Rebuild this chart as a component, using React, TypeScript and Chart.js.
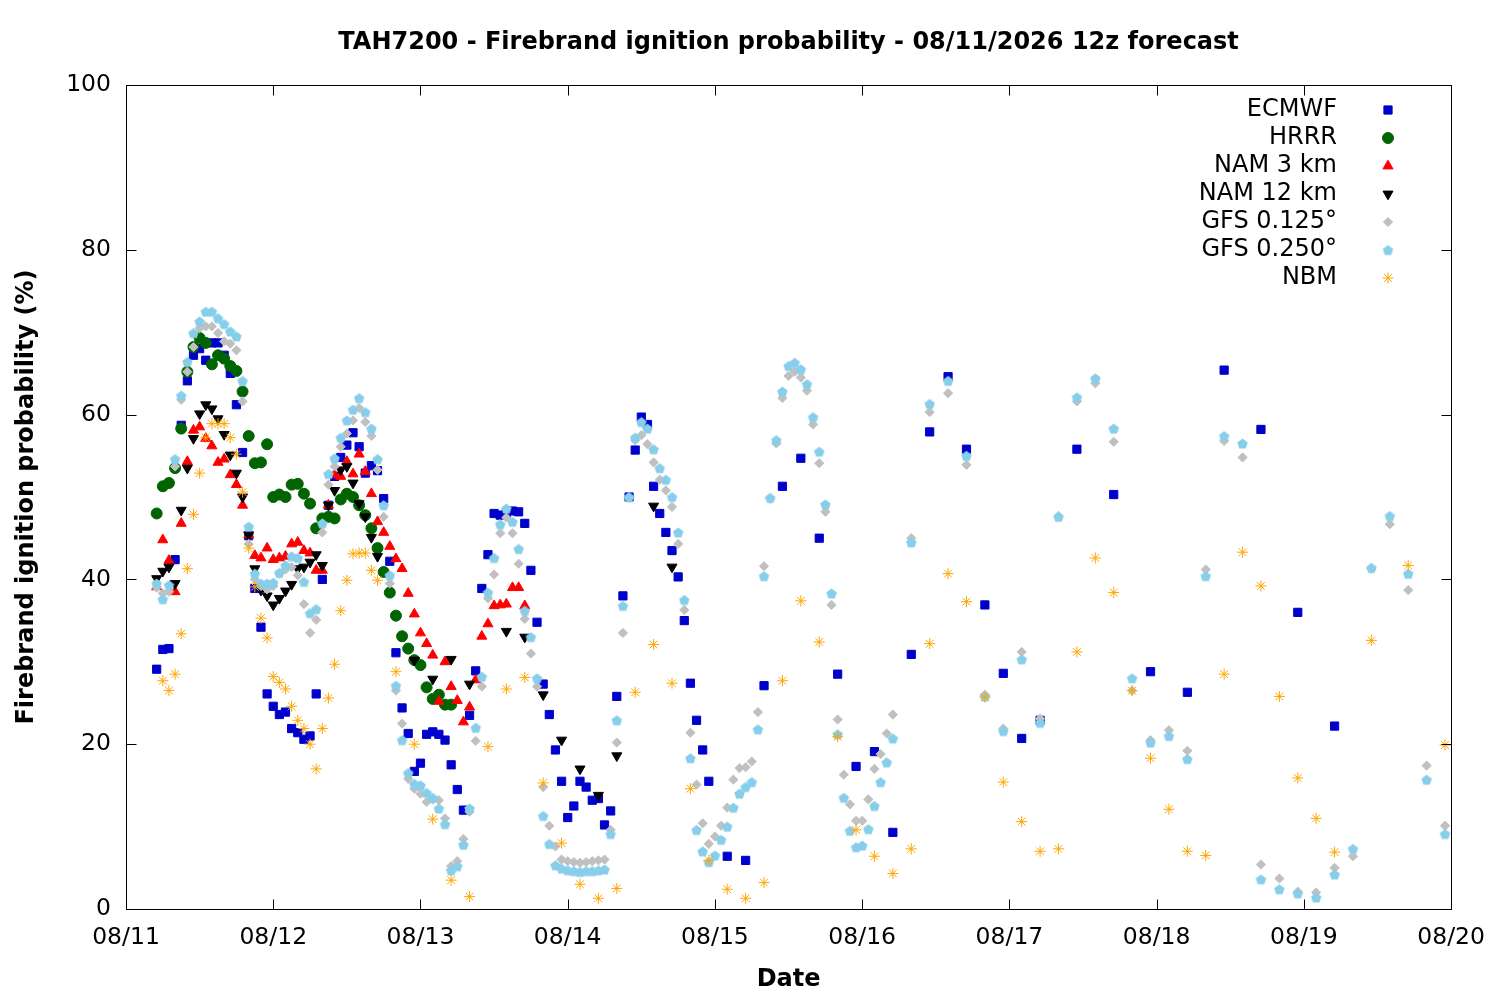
import React, { useEffect, useRef } from 'react';
import { Chart, registerables } from 'chart.js';
import { drawPoint } from 'chart.js/helpers';

Chart.register(...registerables);

// hours are counted from 08/11 00:00 (local), forecast starts at hour 5
const range = (from: number, to: number, step: number) => {
  const out: number[] = [];
  for (let h = from; h <= to; h += step) out.push(h);
  return out;
};

const dayLabels = ['08/11', '08/12', '08/13', '08/14', '08/15', '08/16', '08/17', '08/18', '08/19', '08/20'];

const ecmwfHours = [...range(5, 95, 1), ...range(98, 149, 3), ...range(155, 197, 6)];
const ecmwfValues = [
  29.1, 31.5, 31.6, 42.4, 58.7, 64.1, 67.2, 68.0, 66.6, 68.7,
  68.7, 67.2, 65.0, 61.2, 55.4, 45.3, 38.9, 34.2, 26.1, 24.6,
  23.6, 23.9, 21.9, 21.4, 20.6, 21.0, 26.1, 40.0, 49.0, 52.5,
  54.8, 56.3, 57.8, 56.1, 52.9, 53.8, 53.2, 49.8, 42.2, 31.1,
  24.4, 21.3, 16.7, 17.7, 21.2, 21.5, 21.2, 20.5, 17.5, 14.5,
  12.0, 23.5, 28.9, 38.9, 43.0, 48.0, 47.8, 48.0, 48.3, 48.2,
  46.8, 41.1, 34.8, 27.3, 23.6, 19.3, 15.5, 11.1, 12.5, 15.5,
  14.8, 13.2, 13.4, 10.2, 11.9, 25.8, 38.0, 50.0, 55.7, 59.7,
  58.8, 51.3, 48.0, 45.7, 43.5, 40.3, 35.0, 27.4, 22.9, 19.3,
  15.5,
  6.4, 5.9, 27.1, 51.3, 54.7, 45.0, 28.5, 17.3, 19.1, 9.3,
  30.9, 57.9, 64.6, 55.8, 36.9, 28.6, 20.7, 22.9,
  55.8, 50.3, 28.8, 26.3, 65.4, 58.2, 36.0, 22.2,
];

const hrrrHours = range(5, 53, 1);
const hrrrValues = [
  48.0, 51.3, 51.7, 53.5, 58.3, 65.2, 68.2, 69.3, 68.7, 66.1,
  67.2, 66.8, 65.9, 65.3, 62.8, 57.4, 54.1, 54.2, 56.4, 50.0,
  50.3, 50.0, 51.5, 51.6, 50.4, 49.2, 46.2, 47.4, 47.6, 47.4,
  49.7, 50.4, 50.0, 49.0, 47.8, 46.2, 43.8, 40.9, 38.4, 35.6,
  33.1, 31.6, 30.2, 29.6, 26.9, 25.5, 26.0, 24.8, 24.8,
];

const nam3Hours = range(5, 65, 1);
const nam3Values = [
  39.1, 44.8, 42.3, 38.5, 46.8, 54.3, 58.1, 58.5, 57.1, 56.2,
  54.2, 54.6, 52.7, 51.5, 49.0, 45.4, 42.9, 42.6, 43.8, 42.4,
  42.6, 42.8, 44.3, 44.5, 43.5, 43.2, 41.1, 41.1, 49.0, 52.7,
  52.5, 54.3, 52.8, 55.2, 53.1, 50.4, 47.0, 45.7, 44.0, 42.5,
  41.3, 38.3, 35.8, 33.5, 32.2, 30.8, 25.2, 30.0, 27.0, 25.3,
  22.7, 24.5, 27.8, 33.1, 34.6, 36.8, 36.9, 37.0, 39.0, 39.0, 36.8,
];

const nam12Hours = [...range(5, 41, 1), 47, 50, 53, 56, 62, 65, 68, 71, 74, 77, 80, 86, 89];
const nam12Values = [
  40.1, 41.0, 41.5, 39.5, 48.4, 53.5, 57.1, 60.1, 61.2, 60.7,
  59.5, 57.6, 55.1, 52.9, 50.0, 45.4, 41.3, 38.7, 38.0, 36.9,
  37.7, 38.6, 39.4, 41.3, 41.5, 42.1, 43.0, 41.7, 49.0, 50.8,
  53.3, 53.7, 51.7, 49.2, 47.6, 45.1, 42.8,
  30.2, 27.9, 30.3, 27.3, 33.7, 33.0, 26.0, 20.5, 17.0, 13.8, 18.6, 48.9, 41.5,
];

const gfsHours = [...range(5, 125, 1), ...range(128, 215, 3)];
const gfs0125Values = [
  39.0, 38.3, 38.5, 53.7, 61.8, 65.2, 68.2, 70.5, 70.7, 70.7,
  69.9, 68.9, 68.6, 67.8, 61.6, 44.3, 40.0, 39.2, 38.8, 39.2,
  40.7, 41.2, 41.5, 40.5, 37.0, 33.5, 35.1, 45.7, 51.5, 53.7,
  56.1, 57.7, 59.3, 60.8, 59.1, 57.4, 53.3, 47.6, 39.5, 26.5,
  22.5, 15.8, 14.6, 14.0, 13.0, 13.3, 13.2, 11.0, 5.2, 5.8,
  8.5, 11.8, 20.4, 27.0, 37.7, 40.6, 45.6, 47.5, 45.6, 41.9,
  35.2, 31.0, 27.0, 14.8, 10.1, 7.6, 6.0, 5.8, 5.7, 5.6,
  5.7, 5.8, 5.9, 6.0, 9.6, 20.2, 33.5, 49.9, 56.9, 57.5,
  56.4, 54.2, 52.1, 50.8, 48.8, 44.3, 36.3, 21.4, 15.1, 10.4,
  7.9, 8.8, 10.1, 12.3, 15.7, 17.1, 17.2, 17.9, 23.9, 41.6,
  49.8, 56.5, 62.0, 64.7, 65.2, 64.5, 62.9, 58.8, 54.1, 48.2,
  36.9, 23.0, 16.3, 12.7, 10.7, 10.7, 13.3, 17.0, 18.8, 21.3, 23.6,
  45.0, 60.3, 62.6, 53.9, 26.0, 21.9, 31.2, 23.1, 47.7, 61.6,
  63.8, 56.7, 26.5, 20.5, 21.7, 19.2, 41.2, 56.8, 54.8, 5.4,
  3.7, 2.1, 2.0, 5.0, 6.4, 41.3, 46.7, 38.7, 17.4, 10.1,
];
const gfs0250Values = [
  39.5, 37.6, 39.3, 54.6, 62.3, 66.4, 69.9, 71.3, 72.5, 72.5,
  71.7, 71.0, 70.1, 69.5, 64.1, 46.4, 40.7, 39.5, 39.5, 39.6,
  40.8, 41.7, 42.8, 42.6, 39.7, 35.9, 36.4, 46.8, 52.8, 54.7,
  57.2, 59.3, 60.6, 62.0, 60.3, 58.3, 54.6, 49.0, 40.5, 27.1,
  20.5, 16.5, 15.2, 15.0, 14.1, 13.5, 12.2, 10.3, 4.7, 5.2,
  7.8, 12.2, 22.0, 28.2, 38.4, 42.6, 46.7, 48.6, 47.0, 43.7,
  36.2, 33.0, 28.0, 11.3, 7.9, 5.3, 4.9, 4.7, 4.6, 4.5,
  4.6, 4.6, 4.7, 4.8, 9.1, 22.9, 36.8, 50.0, 57.2, 59.1,
  58.3, 55.8, 53.5, 52.1, 50.0, 45.7, 37.5, 18.3, 9.6, 7.0,
  5.7, 6.5, 8.4, 10.0, 12.3, 14.0, 14.8, 15.4, 21.8, 40.4,
  49.9, 56.9, 62.8, 65.9, 66.3, 65.5, 63.7, 59.7, 55.5, 49.1,
  38.3, 21.2, 13.5, 9.5, 7.5, 7.7, 9.7, 12.5, 15.4, 17.8, 20.7,
  44.5, 61.3, 64.1, 55.0, 25.8, 21.6, 30.3, 22.6, 47.6, 62.1,
  64.4, 58.3, 28.0, 20.2, 21.0, 18.2, 40.4, 57.4, 56.5, 3.6,
  2.4, 1.9, 1.4, 4.2, 7.3, 41.4, 47.7, 40.7, 15.7, 9.1,
];

const nbmHours = [...range(6, 41, 1), ...range(44, 197, 3), 203, 209, 215];
const nbmValues = [
  27.7, 26.5, 28.5, 33.4, 41.3, 47.9, 52.9, 57.2, 58.9, 58.9,
  58.9, 57.2, 55.2, 50.6, 43.8, 39.1, 35.3, 32.9, 28.2, 27.5,
  26.7, 24.6, 22.9, 21.9, 20.0, 17.0, 21.9, 25.6, 29.7, 36.2,
  39.9, 43.1, 43.2, 43.2, 41.1, 39.9,
  28.8, 20.0, 10.9, 3.5, 1.5, 19.7, 26.7, 28.1, 15.3, 8.0,
  3.0, 1.3, 2.5, 26.3, 32.1, 27.4, 14.6, 5.9, 2.4, 1.3,
  3.2, 27.7, 37.4, 32.4, 20.9, 9.6, 6.4, 4.3, 7.3, 32.2,
  40.7, 37.3, 25.7, 15.4, 10.6, 7.0, 7.3, 31.2, 42.6, 38.4,
  26.5, 18.3, 12.1, 7.0, 6.5, 28.5, 43.3, 39.2, 25.8, 15.9,
  11.0, 6.9,
  32.6, 41.7, 19.9,
];

// gnuplot-like pentagon marker for GFS 0.250
const makePentagon = (color: string, r: number) => {
  const c = document.createElement('canvas');
  const size = Math.ceil(r * 2 + 2);
  c.width = size;
  c.height = size;
  const g = c.getContext('2d')!;
  g.fillStyle = color;
  g.beginPath();
  for (let k = 0; k < 5; k++) {
    const a = -Math.PI / 2 + (k * 2 * Math.PI) / 5;
    const px = size / 2 + r * Math.cos(a);
    const py = size / 2 + 0.6 + r * Math.sin(a);
    if (k === 0) g.moveTo(px, py);
    else g.lineTo(px, py);
  }
  g.closePath();
  g.fill();
  return c;
};

const App = () => {
  const canvasRef = useRef<any>(null);
  const chartRef = useRef<any>(null);

  useEffect(() => {
    document.body.style.margin = '0';
    if (!canvasRef.current) return;
    const ctx = canvasRef.current.getContext('2d');

    if (chartRef.current) {
      chartRef.current.destroy();
    }

    const pentagon = makePentagon('#87ceeb', 5.5);

    const series = [
      { label: 'ECMWF', hours: ecmwfHours, values: ecmwfValues, color: '#0000cc', style: 'rect', radius: 5.8, rotation: 0 },
      { label: 'HRRR', hours: hrrrHours, values: hrrrValues, color: '#006400', style: 'circle', radius: 5.5, rotation: 0 },
      { label: 'NAM 3 km', hours: nam3Hours, values: nam3Values, color: '#ff0000', style: 'triangle', radius: 5.8, rotation: 0 },
      { label: 'NAM 12 km', hours: nam12Hours, values: nam12Values, color: '#000000', style: 'triangle', radius: 5.8, rotation: 180 },
      { label: 'GFS 0.125°', hours: gfsHours, values: gfs0125Values, color: '#c0c0c0', style: 'rectRot', radius: 4.6, rotation: 0 },
      { label: 'GFS 0.250°', hours: gfsHours, values: gfs0250Values, color: '#87ceeb', style: pentagon as any, radius: 5.5, rotation: 0 },
      { label: 'NBM', hours: nbmHours, values: nbmValues, color: '#ffa500', style: 'star', radius: 5.5, rotation: 0 },
    ];

    const font = 'DejaVu Sans';

    const gnuplotDecor = {
      id: 'gnuplotDecor',
      afterDraw(chart: any) {
        const { ctx: c, chartArea: a, scales } = chart;
        const xs = scales.x;
        const ys = scales.y;
        c.save();
        c.strokeStyle = '#000';
        c.lineWidth = 1;
        const L = Math.round(a.left) + 0.5;
        const R = Math.round(a.right) + 0.5;
        const T = Math.round(a.top) + 0.5;
        const B = Math.round(a.bottom) + 0.5;
        c.strokeRect(L, T, R - L, B - T);
        c.beginPath();
        dayLabels.forEach((_, i) => {
          const px = Math.round(xs.getPixelForValue(i * 24)) + 0.5;
          c.moveTo(px, B);
          c.lineTo(px, B - 10);
          c.moveTo(px, T);
          c.lineTo(px, T + 10);
        });
        for (let v = 0; v <= 100; v += 20) {
          const py = Math.round(ys.getPixelForValue(v)) + 0.5;
          c.moveTo(L, py);
          c.lineTo(L + 10, py);
          c.moveTo(R, py);
          c.lineTo(R - 10, py);
        }
        c.stroke();

        // titles
        c.fillStyle = '#000';
        c.textAlign = 'center';
        c.textBaseline = 'middle';
        c.font = `bold 24px "${font}"`;
        const cx = (a.left + a.right) / 2;
        c.fillText('TAH7200 - Firebrand ignition probability - 08/11/2026 12z forecast', cx, 43);
        c.fillText('Date', cx, 980);
        c.save();
        c.translate(27, (a.top + a.bottom) / 2);
        c.rotate(-Math.PI / 2);
        c.fillText('Firebrand ignition probability (%)', 0, 0);
        c.restore();

        // key, gnuplot style: text right-aligned, sample to the right
        c.font = `24px "${font}"`;
        c.textAlign = 'right';
        series.forEach((s, i) => {
          const ry = 110 + i * 28;
          c.fillStyle = '#000';
          c.fillText(s.label, 1337, ry);
          c.fillStyle = s.color;
          c.strokeStyle = s.color;
          c.lineWidth = 1;
          drawPoint(c, { pointStyle: s.style, radius: s.radius, rotation: s.rotation, borderWidth: 1 } as any, 1388, ry);
        });
        c.restore();
      },
    };

    chartRef.current = new Chart(ctx, {
      type: 'scatter',
      data: {
        datasets: series.map((s, i) => ({
          label: s.label,
          data: s.hours.map((h, k) => ({ x: h, y: s.values[k] })),
          pointStyle: s.style,
          pointRadius: s.radius,
          pointRotation: s.rotation,
          pointBackgroundColor: s.color,
          pointBorderColor: s.color,
          pointBorderWidth: 1,
          order: series.length - i,
        })),
      },
      options: {
        animation: false,
        responsive: false,
        devicePixelRatio: 1,
        layout: { padding: { top: 85, right: 46, bottom: 0, left: 0 } },
        plugins: {
          legend: { display: false },
          tooltip: { enabled: false },
          title: { display: false },
        },
        scales: {
          x: {
            type: 'linear',
            min: 0,
            max: 216,
            afterFit: (scale: any) => { scale.height = 91; },
            grid: { display: false, drawTicks: false },
            border: { display: false },
            ticks: {
              stepSize: 24,
              autoSkip: false,
              maxRotation: 0,
              padding: 15,
              color: '#000',
              font: { family: font, size: 23.5 },
              callback: (v: any) => dayLabels[Math.round(Number(v) / 24)],
            },
          },
          y: {
            min: 0,
            max: 100,
            afterFit: (scale: any) => { scale.width = 126; },
            grid: { display: false, drawTicks: false },
            border: { display: false },
            ticks: {
              stepSize: 20,
              padding: 15,
              color: '#000',
              font: { family: font, size: 23.5 },
            },
          },
        },
      },
      plugins: [gnuplotDecor],
    });

    return () => {
      if (chartRef.current) {
        chartRef.current.destroy();
        chartRef.current = null;
      }
    };
  }, []);

  return (
    <div style={{ width: 1500, height: 1000, background: '#fff' }}>
      <canvas ref={canvasRef} width={1500} height={1000} style={{ width: 1500, height: 1000, display: 'block' }} />
    </div>
  );
};

export default App;
